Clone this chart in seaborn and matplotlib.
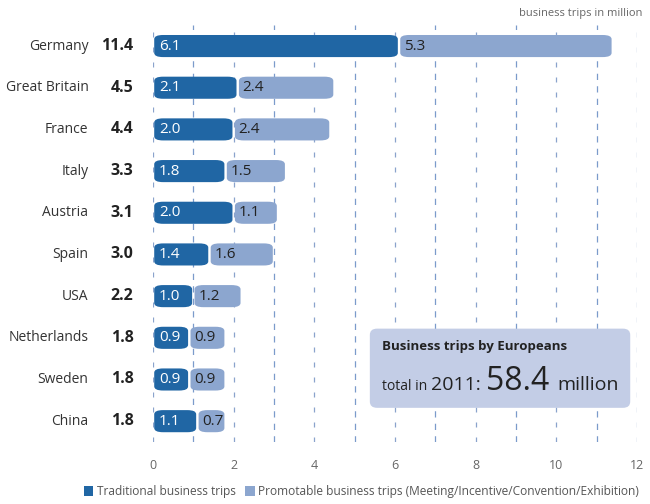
import pandas as pd
import seaborn as sns
import matplotlib.pyplot as plt
from matplotlib.patches import FancyBboxPatch

# Data (million business trips, 2011)
countries = ['Germany', 'Great Britain', 'France', 'Italy', 'Austria',
             'Spain', 'USA', 'Netherlands', 'Sweden', 'China']
totals = [11.4, 4.5, 4.4, 3.3, 3.1, 3.0, 2.2, 1.8, 1.8, 1.8]
traditional = [6.1, 2.1, 2.0, 1.8, 2.0, 1.4, 1.0, 0.9, 0.9, 1.1]
promotable = [5.3, 2.4, 2.4, 1.5, 1.1, 1.6, 1.2, 0.9, 0.9, 0.7]
x_ticks = [0, 2, 4, 6, 8, 10, 12]

df = pd.DataFrame({'Country': countries, 'Traditional': traditional,
                   'Promotable': promotable, 'Total': totals})

dark = '#2066a4'
light = '#8ca6cf'
grid_col = '#7b9bcb'

sns.set_theme(style='white')
plt.rcParams['font.family'] = ['Open Sans', 'DejaVu Sans']

fig = plt.figure(figsize=(6.5, 5.04), dpi=100)
ax = fig.add_axes([0.2354, 0.123, 0.7446, 0.827])

sns.barplot(data=df, y='Country', x='Traditional', color=dark, orient='h',
            width=0.53, saturation=1, ax=ax, zorder=3)
sns.barplot(data=df, y='Country', x='Promotable', color=light, orient='h',
            width=0.53, saturation=1, left=df['Traditional'], ax=ax, zorder=3)

# swap the square bars for rounded ones, keeping the library's geometry
gap = 0.03
for p in list(ax.patches):
    x0, y0 = p.get_x(), p.get_y()
    w, h = p.get_width(), p.get_height()
    fc = p.get_facecolor()
    p.remove()
    rb = FancyBboxPatch((x0 + gap, y0), w - 2 * gap, h,
                        boxstyle='round,pad=0,rounding_size=0.22',
                        mutation_aspect=0.45,
                        fc=fc, ec='none', zorder=3)
    ax.add_patch(rb)

# value labels inside the bars
for i, (t, pr) in enumerate(zip(traditional, promotable)):
    ax.text(0.15, i, f'{t:.1f}', color='white', va='center', ha='left',
            fontsize=11, zorder=4)
    ax.text(t + 0.12, i, f'{pr:.1f}', color='#222222', va='center',
            ha='left', fontsize=11, zorder=4)

# country names and totals
for i, (c, tot) in enumerate(zip(countries, totals)):
    ax.text(-1.6, i, c, ha='right', va='center', fontsize=10,
            color='#333333', clip_on=False)
    ax.text(-0.48, i, f'{tot:.1f}', ha='right', va='center', fontsize=11.5,
            fontweight='bold', color='#222222', clip_on=False)

# dashed vertical grid
for v in range(0, 13):
    ax.axvline(v, color=grid_col if v % 2 else '#8aa3cc', lw=0.9,
               ls=(0, (5, 5)) if v % 2 else (0, (4, 8)), zorder=1)

ax.set_xlim(0, 12)
ax.set_xticks(x_ticks)
ax.set_xticklabels([str(v) for v in x_ticks], color='#666666', fontsize=9)
ax.set_yticks([])
ax.set_xlabel('')
ax.set_ylabel('')
ax.tick_params(axis='x', length=0, pad=12)
for s in ax.spines.values():
    s.set_visible(False)

# summary box
box = FancyBboxPatch((0.448, 0.082), 0.538, 0.19, transform=ax.transAxes,
                     boxstyle='round,pad=0,rounding_size=0.015',
                     fc='#c3cde6', ec='none', zorder=5)
ax.add_patch(box)
ax.text(0.473, 0.228, 'Business trips by Europeans', transform=ax.transAxes,
        fontsize=9.5, fontweight='bold', color='#222222', va='center',
        zorder=6)
t1 = ax.text(0.473, 0.125, 'total in ', transform=ax.transAxes, fontsize=10,
             color='#222222', va='baseline', zorder=6)
t2 = ax.annotate('2011: ', xy=(1, 0.125), xycoords=(t1, ax.transAxes),
                 fontsize=14, color='#222222', va='baseline', zorder=6)
t3 = ax.annotate('58.4 ', xy=(1, 0.125), xycoords=(t2, ax.transAxes),
                 fontsize=23, color='#222222', va='baseline', zorder=6)
ax.annotate('million', xy=(1, 0.125), xycoords=(t3, ax.transAxes),
            fontsize=14, color='#222222', va='baseline', zorder=6)

fig.text(0.989, 0.973, 'business trips in million', ha='right', va='center',
         fontsize=8, color='#666666')

# legend
handles = [FancyBboxPatch((0, 0), 1, 1, fc=dark, ec='none'),
           FancyBboxPatch((0, 0), 1, 1, fc=light, ec='none')]
fig.legend(handles, ['Traditional business trips',
                     'Promotable business trips (Meeting/Incentive/Convention/Exhibition)'],
           loc='lower right', bbox_to_anchor=(1.0, -0.01), ncol=2, frameon=False,
           fontsize=8.6, handlelength=0.8, handleheight=0.9, handletextpad=0.3,
           columnspacing=0.8, labelcolor='#555555')

fig.savefig('out.png', dpi=100)
